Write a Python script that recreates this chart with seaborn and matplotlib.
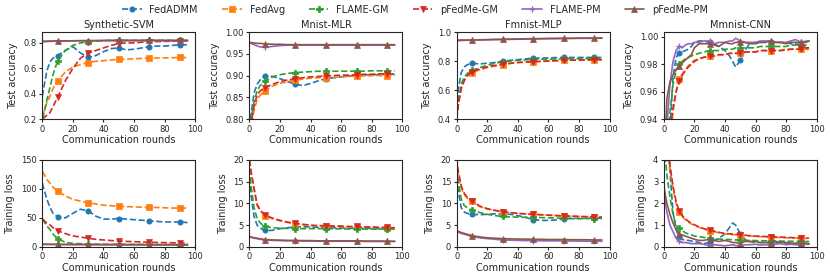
import numpy as np
import matplotlib
matplotlib.use("Agg")
import matplotlib.pyplot as plt
import seaborn as sns

sns.set_style("ticks")
plt.rcParams['font.family'] = ['DejaVu Sans']

methods = ["FedADMM", "FedAvg", "FLAME-GM", "pFedMe-GM", "FLAME-PM", "pFedMe-PM"]
colors = ["#1f77b4", "#ff7f0e", "#2ca02c", "#d62728", "#9467bd", "#8c564b"]
markers = ["o", "s", "P", "v", "+", "^"]
styles = ["--", "--", "--", "--", "-", "-"]
titles = ["Synthetic-SVM", "Mnist-MLR", "Fmnist-MLP", "Mmnist-CNN"]

rounds = [0, 1, 3, 5, 7, 10, 15, 20, 25, 30, 35, 40, 45, 50, 55, 60, 65, 70, 75, 80, 85, 90, 95]
cnn_rounds = [0, 2, 4, 6, 8, 10, 12, 14, 16, 18, 20, 23, 26, 30, 33, 36, 40, 43, 45, 47, 50,
              53, 56, 60, 63, 66, 70, 73, 76, 80, 83, 86, 90, 93, 95]

# Synthetic-SVM
svm_acc = [
    [0.38, 0.45, 0.58, 0.65, 0.68, 0.70, 0.74, 0.77, 0.72, 0.685, 0.70, 0.73, 0.755, 0.76, 0.745, 0.75, 0.76, 0.77, 0.775, 0.775, 0.78, 0.785, 0.785],
    [0.22, 0.26, 0.33, 0.38, 0.44, 0.50, 0.57, 0.61, 0.63, 0.645, 0.655, 0.66, 0.665, 0.67, 0.672, 0.675, 0.677, 0.68, 0.681, 0.682, 0.683, 0.685, 0.685],
    [0.20, 0.24, 0.35, 0.45, 0.55, 0.66, 0.74, 0.78, 0.80, 0.81, 0.815, 0.818, 0.82, 0.82, 0.82, 0.82, 0.82, 0.82, 0.82, 0.82, 0.82, 0.82, 0.82],
    [0.20, 0.21, 0.23, 0.25, 0.30, 0.37, 0.50, 0.60, 0.68, 0.72, 0.74, 0.76, 0.78, 0.795, 0.80, 0.80, 0.805, 0.81, 0.81, 0.812, 0.813, 0.815, 0.815],
    [0.812, 0.813, 0.814, 0.815, 0.815, 0.816, 0.816, 0.817, 0.817, 0.817, 0.817, 0.817, 0.817, 0.817, 0.817, 0.817, 0.817, 0.817, 0.817, 0.817, 0.817, 0.817, 0.817],
    [0.81, 0.81, 0.811, 0.812, 0.813, 0.814, 0.815, 0.816, 0.817, 0.818, 0.818, 0.819, 0.82, 0.82, 0.82, 0.82, 0.82, 0.82, 0.82, 0.82, 0.82, 0.82, 0.82],
]
svm_loss = [
    [110, 100, 82, 68, 58, 52, 50, 58, 65, 62, 53, 48, 48, 49, 48, 47, 46, 45, 44, 43, 43, 43, 42],
    [130, 126, 116, 110, 103, 96, 88, 82, 79, 76, 74, 72, 71, 70, 69.5, 69, 68.5, 68, 68, 67.5, 67, 67, 67],
    [48, 44, 36, 30, 22, 14, 8, 6, 5.5, 5, 4.8, 4.6, 4.5, 4.5, 4.4, 4.3, 4.2, 4.2, 4.1, 4.1, 4, 4, 4],
    [48, 46, 41, 38, 33, 28, 23, 19, 17, 15, 13, 12, 11, 10, 9.5, 9, 8.5, 8, 7.7, 7.4, 7.1, 7, 6.5],
    [4.5, 4.5, 4.4, 4.4, 4.3, 4.2, 4.1, 4.0, 4.0, 3.9, 3.9, 3.8, 3.8, 3.8, 3.7, 3.7, 3.7, 3.6, 3.6, 3.6, 3.6, 3.5, 3.5],
    [4.6, 4.6, 4.5, 4.5, 4.4, 4.4, 4.3, 4.2, 4.2, 4.1, 4.1, 4.0, 4.0, 4.0, 3.9, 3.9, 3.9, 3.9, 3.8, 3.8, 3.8, 3.8, 3.8],
]

# Mnist-MLR
mlr_acc = [
    [0.78, 0.81, 0.86, 0.88, 0.89, 0.90, 0.898, 0.893, 0.886, 0.88, 0.877, 0.882, 0.888, 0.893, 0.895, 0.897, 0.899, 0.90, 0.901, 0.902, 0.902, 0.903, 0.903],
    [0.75, 0.78, 0.82, 0.845, 0.855, 0.865, 0.876, 0.882, 0.886, 0.89, 0.892, 0.894, 0.895, 0.895, 0.896, 0.897, 0.898, 0.899, 0.899, 0.90, 0.90, 0.90, 0.90],
    [0.77, 0.80, 0.84, 0.865, 0.877, 0.887, 0.897, 0.902, 0.905, 0.907, 0.908, 0.909, 0.91, 0.91, 0.91, 0.91, 0.91, 0.91, 0.91, 0.911, 0.911, 0.911, 0.911],
    [0.76, 0.79, 0.83, 0.855, 0.865, 0.872, 0.88, 0.886, 0.89, 0.893, 0.895, 0.897, 0.898, 0.899, 0.90, 0.901, 0.901, 0.902, 0.903, 0.903, 0.904, 0.904, 0.904],
    [0.975, 0.974, 0.971, 0.968, 0.966, 0.965, 0.967, 0.969, 0.97, 0.97, 0.97, 0.97, 0.97, 0.97, 0.97, 0.97, 0.97, 0.97, 0.97, 0.97, 0.97, 0.97, 0.97],
    [0.976, 0.976, 0.975, 0.974, 0.974, 0.973, 0.972, 0.972, 0.971, 0.971, 0.971, 0.971, 0.971, 0.971, 0.971, 0.971, 0.971, 0.971, 0.971, 0.971, 0.971, 0.971, 0.971],
]
mlr_loss = [
    [16, 12, 7, 5, 4.3, 3.8, 3.8, 4.2, 4.4, 4.6, 4.6, 4.6, 4.5, 4.4, 4.4, 4.35, 4.3, 4.3, 4.3, 4.25, 4.2, 4.2, 4.2],
    [20, 17, 13, 9.5, 8.3, 7.2, 6.5, 6, 5.6, 5.3, 5.1, 4.9, 4.8, 4.8, 4.7, 4.7, 4.6, 4.6, 4.5, 4.5, 4.4, 4.4, 4.3],
    [18, 14, 9, 6.5, 5.5, 4.7, 4.4, 4.3, 4.25, 4.2, 4.2, 4.2, 4.2, 4.2, 4.15, 4.15, 4.1, 4.1, 4.1, 4.1, 4.1, 4.1, 4.1],
    [20, 17.5, 13.5, 9.8, 8.5, 7.4, 6.6, 6.1, 5.7, 5.4, 5.2, 5.0, 4.9, 4.9, 4.8, 4.8, 4.7, 4.7, 4.6, 4.6, 4.5, 4.5, 4.4],
    [2.3, 2.2, 2.0, 1.9, 1.75, 1.6, 1.5, 1.45, 1.4, 1.4, 1.35, 1.35, 1.3, 1.3, 1.3, 1.3, 1.3, 1.3, 1.25, 1.25, 1.25, 1.25, 1.25],
    [2.4, 2.3, 2.1, 2.0, 1.85, 1.7, 1.6, 1.55, 1.5, 1.5, 1.45, 1.45, 1.4, 1.4, 1.4, 1.4, 1.4, 1.4, 1.35, 1.35, 1.35, 1.3, 1.3],
]

# Fmnist-MLP
mlp_acc = [
    [0.40, 0.60, 0.72, 0.76, 0.775, 0.785, 0.78, 0.785, 0.79, 0.80, 0.805, 0.81, 0.815, 0.82, 0.82, 0.822, 0.824, 0.825, 0.825, 0.825, 0.825, 0.825, 0.825],
    [0.40, 0.50, 0.62, 0.67, 0.70, 0.72, 0.74, 0.755, 0.765, 0.775, 0.783, 0.79, 0.793, 0.795, 0.798, 0.80, 0.803, 0.805, 0.806, 0.807, 0.808, 0.81, 0.81],
    [0.40, 0.52, 0.64, 0.69, 0.715, 0.735, 0.755, 0.77, 0.785, 0.795, 0.80, 0.805, 0.808, 0.81, 0.812, 0.813, 0.814, 0.815, 0.816, 0.817, 0.818, 0.82, 0.82],
    [0.40, 0.49, 0.61, 0.665, 0.70, 0.725, 0.745, 0.76, 0.77, 0.78, 0.785, 0.79, 0.793, 0.795, 0.798, 0.80, 0.803, 0.805, 0.806, 0.807, 0.808, 0.81, 0.81],
    [0.94, 0.94, 0.942, 0.943, 0.944, 0.945, 0.947, 0.948, 0.95, 0.95, 0.952, 0.953, 0.954, 0.955, 0.955, 0.956, 0.957, 0.957, 0.958, 0.958, 0.959, 0.96, 0.96],
    [0.945, 0.945, 0.945, 0.945, 0.945, 0.945, 0.946, 0.947, 0.948, 0.949, 0.95, 0.951, 0.952, 0.953, 0.954, 0.955, 0.955, 0.956, 0.956, 0.957, 0.957, 0.957, 0.958],
]
mlp_loss = [
    [16, 13, 9, 8, 7.7, 7.5, 7.4, 7.5, 7.6, 7.6, 7.5, 7.2, 6.8, 6.3, 6.1, 6.1, 6.2, 6.4, 6.5, 6.5, 6.55, 6.6, 6.6],
    [20, 17, 13.5, 12, 11.2, 10.5, 9.3, 8.7, 8.4, 8.1, 7.9, 7.7, 7.6, 7.5, 7.4, 7.3, 7.2, 7.1, 7.05, 7.0, 6.95, 6.9, 6.8],
    [18, 15, 11, 9.5, 9, 8.4, 7.9, 7.5, 7.2, 7.0, 6.9, 6.85, 6.8, 6.8, 6.75, 6.7, 6.65, 6.6, 6.6, 6.55, 6.55, 6.5, 6.5],
    [20.5, 17.5, 14, 12.3, 11.4, 10.6, 9.4, 8.8, 8.4, 8.1, 7.9, 7.7, 7.6, 7.5, 7.4, 7.3, 7.2, 7.15, 7.1, 7.0, 6.95, 6.9, 6.85],
    [3.6, 3.4, 3.1, 2.9, 2.7, 2.4, 2.1, 1.9, 1.75, 1.6, 1.55, 1.5, 1.45, 1.45, 1.4, 1.4, 1.4, 1.35, 1.35, 1.35, 1.3, 1.3, 1.3],
    [3.8, 3.6, 3.3, 3.1, 2.9, 2.6, 2.3, 2.1, 2.0, 1.9, 1.85, 1.8, 1.8, 1.75, 1.75, 1.7, 1.7, 1.7, 1.65, 1.65, 1.65, 1.6, 1.6],
]

# Mmnist-CNN
cnn_acc = [
    [0.85, 0.90, 0.93, 0.97, 0.985, 0.988, 0.989, 0.99, 0.991, 0.993, 0.996, 0.997, 0.997, 0.996, 0.995, 0.993, 0.99, 0.986, 0.982, 0.978, 0.983, 0.99, 0.995, 0.996, 0.996, 0.996, 0.996, 0.996, 0.996, 0.996, 0.995, 0.995, 0.994, 0.992, 0.99],
    [0.85, 0.90, 0.925, 0.945, 0.96, 0.969, 0.973, 0.976, 0.979, 0.981, 0.983, 0.984, 0.985, 0.986, 0.986, 0.987, 0.987, 0.988, 0.988, 0.988, 0.988, 0.989, 0.989, 0.989, 0.99, 0.99, 0.99, 0.99, 0.99, 0.99, 0.991, 0.991, 0.991, 0.991, 0.991],
    [0.86, 0.92, 0.945, 0.965, 0.975, 0.98, 0.982, 0.984, 0.985, 0.986, 0.987, 0.988, 0.989, 0.99, 0.99, 0.99, 0.991, 0.991, 0.991, 0.992, 0.992, 0.992, 0.992, 0.992, 0.993, 0.993, 0.993, 0.993, 0.993, 0.993, 0.994, 0.994, 0.994, 0.994, 0.994],
    [0.85, 0.90, 0.93, 0.948, 0.96, 0.968, 0.972, 0.975, 0.978, 0.98, 0.982, 0.984, 0.985, 0.986, 0.986, 0.987, 0.987, 0.988, 0.988, 0.988, 0.988, 0.989, 0.989, 0.989, 0.99, 0.99, 0.99, 0.99, 0.99, 0.991, 0.991, 0.991, 0.991, 0.992, 0.992],
    [0.90, 0.935, 0.965, 0.982, 0.99, 0.993, 0.992, 0.994, 0.995, 0.995, 0.996, 0.996, 0.997, 0.997, 0.995, 0.996, 0.996, 0.997, 0.997, 0.999, 0.997, 0.996, 0.996, 0.996, 0.997, 0.997, 0.997, 0.996, 0.996, 0.996, 0.997, 0.998, 0.996, 0.997, 0.997],
    [0.90, 0.955, 0.967, 0.972, 0.976, 0.979, 0.981, 0.983, 0.985, 0.987, 0.992, 0.995, 0.995, 0.995, 0.994, 0.993, 0.996, 0.995, 0.995, 0.996, 0.996, 0.996, 0.995, 0.995, 0.996, 0.996, 0.997, 0.996, 0.996, 0.995, 0.996, 0.996, 0.996, 0.996, 0.997],
]
cnn_loss = [
    [6.5, 5, 3.5, 1.6, 0.8, 0.45, 0.35, 0.3, 0.3, 0.27, 0.25, 0.2, 0.15, 0.2, 0.3, 0.4, 0.6, 0.9, 1.1, 1.0, 0.6, 0.35, 0.25, 0.2, 0.2, 0.2, 0.2, 0.19, 0.18, 0.18, 0.17, 0.16, 0.15, 0.15, 0.15],
    [7, 5, 3.6, 2.7, 2.0, 1.6, 1.4, 1.25, 1.15, 1.05, 1.0, 0.9, 0.82, 0.75, 0.7, 0.65, 0.6, 0.58, 0.57, 0.56, 0.55, 0.52, 0.5, 0.48, 0.47, 0.46, 0.45, 0.44, 0.43, 0.42, 0.41, 0.41, 0.4, 0.39, 0.38],
    [5, 3.3, 2.3, 1.5, 1.0, 0.85, 0.75, 0.65, 0.6, 0.55, 0.5, 0.47, 0.44, 0.4, 0.38, 0.36, 0.35, 0.34, 0.33, 0.32, 0.31, 0.3, 0.3, 0.29, 0.29, 0.28, 0.28, 0.27, 0.27, 0.26, 0.26, 0.26, 0.25, 0.25, 0.25],
    [7.2, 5.2, 3.8, 2.8, 2.1, 1.65, 1.45, 1.3, 1.18, 1.08, 1.02, 0.92, 0.84, 0.77, 0.72, 0.67, 0.62, 0.6, 0.59, 0.58, 0.57, 0.54, 0.52, 0.5, 0.49, 0.48, 0.47, 0.46, 0.45, 0.44, 0.43, 0.42, 0.42, 0.41, 0.4],
    [2.5, 1.6, 1.0, 0.7, 0.4, 0.25, 0.2, 0.2, 0.18, 0.15, 0.15, 0.15, 0.12, 0.05, 0.1, 0.08, 0.05, 0.08, 0.1, 0.06, 0.05, 0.1, 0.1, 0.12, 0.08, 0.1, 0.1, 0.12, 0.15, 0.1, 0.12, 0.1, 0.1, 0.12, 0.12],
    [2.8, 2.0, 1.5, 1.1, 0.8, 0.6, 0.55, 0.5, 0.45, 0.4, 0.35, 0.3, 0.3, 0.35, 0.3, 0.25, 0.3, 0.25, 0.2, 0.2, 0.15, 0.25, 0.25, 0.25, 0.2, 0.2, 0.2, 0.25, 0.22, 0.2, 0.18, 0.15, 0.2, 0.17, 0.15],
]

acc_data = [svm_acc, mlr_acc, mlp_acc, cnn_acc]
loss_data = [svm_loss, mlr_loss, mlp_loss, cnn_loss]
xs = [rounds, rounds, rounds, cnn_rounds]
acc_lims = [(0.2, 0.885), (0.8, 1.0), (0.4, 1.0), (0.94, 1.0035)]
loss_lims = [(0, 150), (0, 20), (0, 20), (0, 4)]

fig, axes = plt.subplots(2, 4, figsize=(8.3, 2.79), dpi=100)
fig.subplots_adjust(left=0.051, right=0.984, top=0.885, bottom=0.115, wspace=0.355, hspace=0.47)

for j in range(4):
    x = xs[j]
    mk = [i for i, r in enumerate(x) if r in (10, 30, 50, 70, 90)]
    for row, data, lims, ylab in [(0, acc_data[j], acc_lims[j], "Test accuracy"),
                                  (1, loss_data[j], loss_lims[j], "Training loss")]:
        ax = axes[row, j]
        for k in range(6):
            sns.lineplot(x=x, y=data[k], ax=ax, color=colors[k], linestyle=styles[k],
                         marker=markers[k], markevery=mk, markersize=3.8, linewidth=1.2,
                         markeredgewidth=1.0 if markers[k] == "+" else 0.5,
                         markeredgecolor=colors[k], label=methods[k] if (row == 0 and j == 0) else None)
        ax.set_xlim(0, 100)
        ax.set_ylim(*lims)
        ax.set_ylabel(ylab, fontsize=7)
        ax.set_xlabel("Communication rounds", fontsize=7, labelpad=1)
        ax.tick_params(labelsize=6, length=2.5, pad=1.5)
        if ax.get_legend() is not None:
            ax.get_legend().remove()
        if row == 0:
            ax.set_title(titles[j], fontsize=7, pad=3)

handles, labels = axes[0, 0].get_legend_handles_labels()
fig.legend(handles, labels, loc="upper center", ncol=6, frameon=False, fontsize=7,
           bbox_to_anchor=(0.5, 1.015), columnspacing=2.5, handlelength=2.0)

fig.savefig("out.png", dpi=100)
